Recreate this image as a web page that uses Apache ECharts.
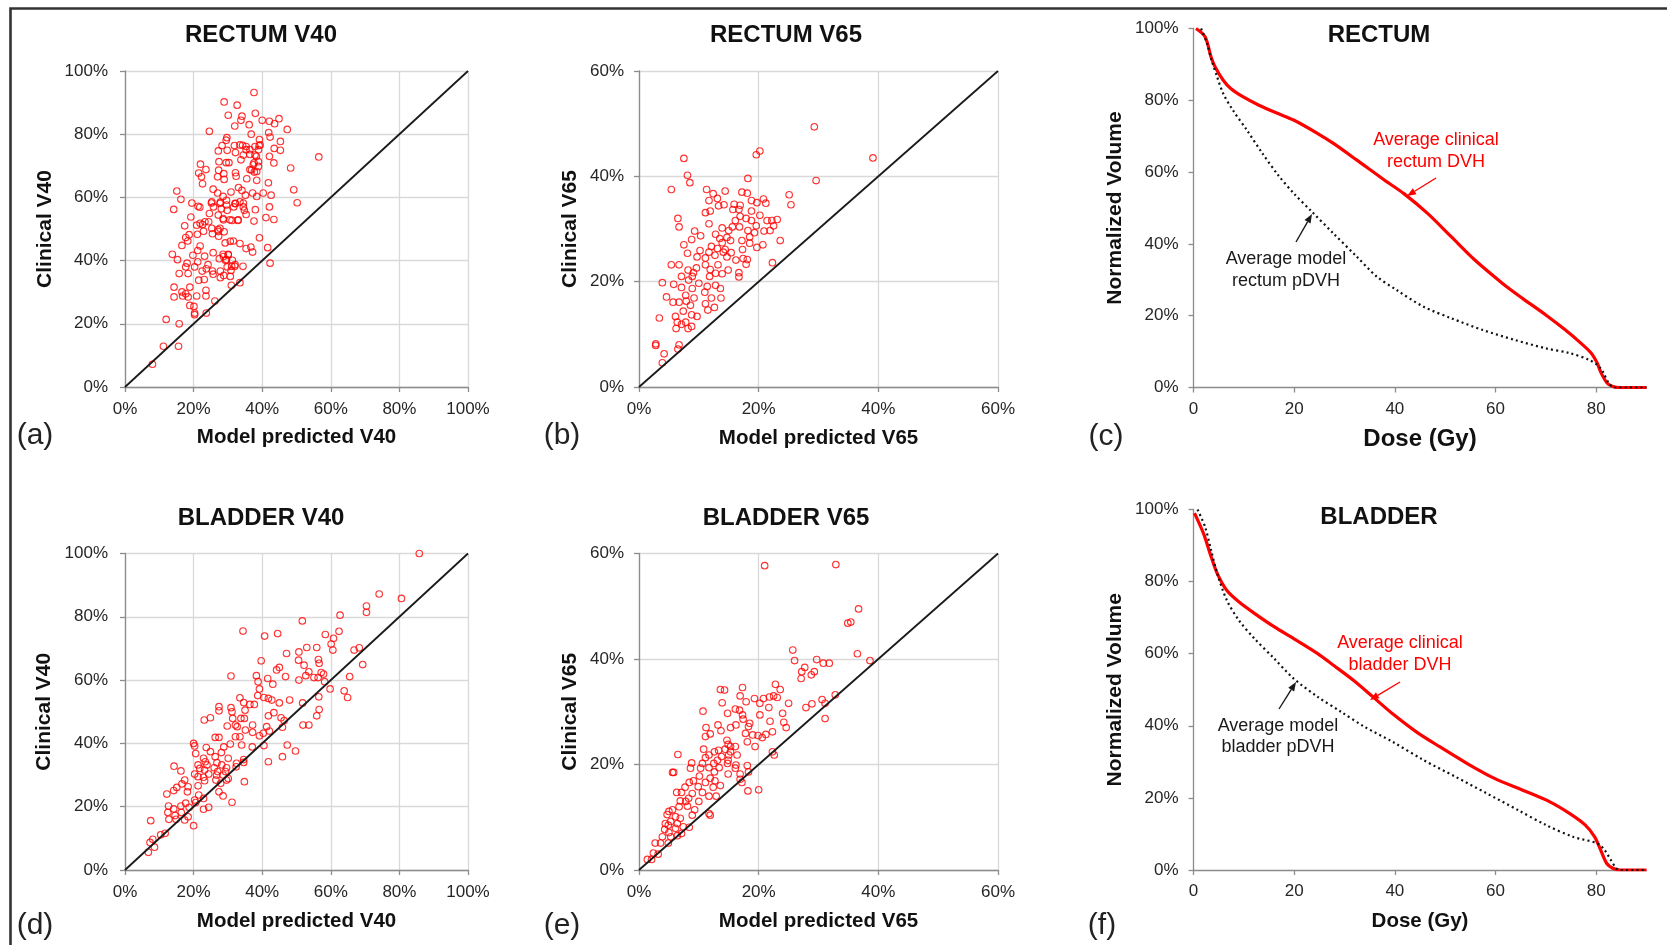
<!DOCTYPE html>
<html><head><meta charset="utf-8">
<script src="https://cdn.jsdelivr.net/npm/echarts@6/dist/echarts.min.js"></script>
<style>html,body{margin:0;padding:0;background:#fff}#c{width:1667px;height:945px}</style>
</head><body><div id="c"></div><script>
// ---------- DATA ----------
const rectumV40 = [[37.6,93.2],[28.9,90.2],[32.7,89.2],[30.1,86],[38,86.6],[34.1,85.7],[33.8,84.4],[40,84.4],[42.1,84.1],[44.9,84.9],[43.6,83.3],[36.2,83],[32,82.6],[47.3,81.5],[24.6,80.9],[36.8,80],[41.9,80.5],[42.3,79.1],[45.3,77.7],[39.2,78.3],[29.7,78.9],[29.5,78.1],[28.3,76.4],[31.9,76.4],[34.3,76.5],[39.1,76.4],[43.5,75.5],[45.3,74.9],[27.2,74.7],[29.8,74.9],[32.2,74.2],[35.3,75.1],[36.4,73.6],[38.3,73],[42.1,73],[43.4,70.9],[27.4,71.3],[29.5,71],[30.3,71],[33.8,71.9],[37.6,70.9],[38.9,69.8],[48.3,69.3],[56.5,72.8],[22,70.5],[23.6,68.8],[21.5,67.7],[27.3,68.6],[28.8,67.5],[32.2,67.8],[32.4,66.7],[27,66.5],[36.4,68.8],[37.7,68],[22.3,66.5],[22.6,64.3],[38.4,65.4],[41.8,64.6],[35.5,65.9],[28.9,65.7],[25.7,62.6],[33.1,63.1],[34.1,62.2],[37.2,61.4],[40.3,61.4],[38.4,60.3],[42.6,60.7],[30.9,61.7],[27,61.4],[28.6,60.3],[35.1,60.7],[49.2,62.4],[15.1,62],[16.3,59.4],[19.5,58.2],[21.3,57.2],[25.2,58.2],[27.8,58.5],[29.6,59.1],[32.2,58],[34.5,58.2],[50.2,58.3],[14.2,56.2],[21.8,56.9],[25.8,57],[28.1,56.4],[31.7,57],[29.8,55.9],[34.8,55.9],[38,56.1],[42.1,57],[24.6,54.9],[35.3,54.6],[19.2,53.8],[28.6,53.3],[31.2,52.7],[32.9,52.7],[37.6,52.5],[43.4,53],[41.1,53.6],[24.4,52.3],[22.6,51.4],[20.9,51.2],[17.4,51],[27.1,49.8],[25.5,48.5],[27.3,47.7],[28.9,49.1],[22.9,49.3],[21.1,48.3],[18.7,48.2],[17.7,47.3],[18.3,46.2],[16.6,44.8],[39.2,47.2],[30.7,46.1],[31.6,46.2],[29.2,45.6],[21.9,44.6],[33.5,45.4],[35.3,43.8],[36.7,44.3],[37.2,42.7],[41.6,44.1],[21.2,43.2],[25.7,42.5],[13.8,42],[15.3,40.3],[19.8,41.7],[23.2,41.4],[28.6,42],[30.1,42],[27.5,40.6],[29.3,40.1],[31.3,40.1],[21.2,39.6],[18.1,39.2],[42.3,39.2],[17.7,38],[20.3,38],[24.2,38.7],[29.8,38],[32,38.2],[34.4,38.2],[23.7,37.4],[22.5,36.7],[25.5,36.7],[27.8,36.7],[30.9,36.9],[18.4,35.9],[15.8,35.9],[25.7,35.7],[28.8,35.3],[30.7,35],[27.8,34.6],[21.5,33.8],[23.1,34],[33.5,33],[31,32.2],[14.3,31.6],[18.9,31.6],[23.6,30.6],[16.6,30.1],[17.7,29.5],[14.3,28.5],[16.8,28.8],[18.4,28.5],[20.9,28.8],[23.6,28.8],[26.2,27.2],[18.9,25.8],[20.1,25.5],[20.3,23.4],[20.3,22.9],[23.7,23.4],[12,21.4],[15.8,20],[11.2,12.9],[15.6,12.9],[8,7.2],
[33.5,76.6],[35.3,76.1],[36.4,75.1],[37.9,76.1],[38.9,75.1],[39.4,76.6],[34.5,73.4],[37.9,73.4],[38.9,71.3],[37.4,70.3],[36.9,68.7],[38.4,68.2],[25.3,58.6],[27.7,58.1],[29.6,57.6],[32.1,58.1],[33.5,58.6],[34.5,57],[27.2,54.4],[28.7,52.9],[30.6,52.9],[33,52.9],[21.9,51.8],[23.3,52.3],[25.3,50.2],[27.2,49.2],[27.7,50.2],[28.7,41.3],[30.1,41.8],[29.6,40.3],[31.1,38.2],[32.1,38.7]];

const rectumV65 = [[29.3,49.4],[20.2,44.8],[19.6,44.1],[7.5,43.4],[39.1,43.5],[8.1,40.2],[18.2,39.6],[8.5,38.8],[29.6,39.2],[5.4,37.5],[11.3,37.5],[14.4,37.2],[17.2,37],[18.1,36.8],[12.4,36.7],[25.1,36.5],[11.7,35.4],[20.8,35.7],[21.2,34.9],[18.8,35.4],[13.1,35.8],[19.7,35],[25.4,34.6],[14.2,34.6],[13.3,34.4],[15.9,34.7],[16.9,34.5],[16.7,33.7],[15.7,33.7],[18.8,33.4],[11.1,33.1],[11.9,33.4],[20.2,32.6],[16.9,32.4],[16.1,31.6],[17.9,32],[18.8,31.6],[21.4,31.6],[22.2,31.6],[23.1,31.8],[6.5,32],[11.7,31],[6.7,30.4],[13.9,30.2],[15.6,30.4],[16.8,30.4],[19.6,30.6],[22.5,30.6],[15,29.7],[18.2,29.7],[19.3,29.3],[20.9,29.6],[21.9,29.7],[9.3,29.6],[12.8,29],[13.5,28.2],[14.7,28.4],[15.3,27.8],[18.5,28.5],[17.2,27.8],[23.6,27.8],[8.8,28],[10.3,28.7],[13.9,27.4],[18.5,27.3],[20.7,27],[7.5,27],[12.1,26.7],[13.1,26.3],[14.4,26.1],[19.7,26.5],[17.3,26.1],[10.2,25.9],[8.1,25.4],[11.7,25.6],[14.1,25.6],[15.4,25.5],[12.7,25],[9.7,24.7],[11.1,24.5],[14.7,24.7],[16.2,24.1],[17.4,24.4],[18.1,24.2],[17.9,23.3],[22.3,23.6],[5.4,23.2],[6.7,23.2],[11.1,23.2],[13.2,23.2],[9.6,22.6],[11.9,22.3],[14.9,22.2],[8.2,22.2],[9.1,21.7],[12.8,21.6],[13.9,21.5],[16.7,21.7],[7.1,21],[8.9,21],[11.8,21],[16.7,20.9],[3.9,19.8],[5.8,19.5],[7.1,18.9],[10,19.7],[8.3,20.3],[11.4,19.1],[12.8,19.3],[13.6,18.7],[8.9,18.7],[11,18],[4.6,17.1],[7.8,17.4],[9.2,16.9],[12.1,16.9],[13.7,16.9],[5.7,16.1],[6.7,16.1],[7.9,16.3],[8.6,15.5],[11.1,15.8],[12.6,15.1],[11.5,14.6],[7.4,14.4],[8.8,13.7],[9.7,13.4],[6.1,13.4],[3.4,13.1],[6.4,12.3],[7.8,12.3],[7.1,11.9],[8.8,11.5],[6.2,11.1],[8.2,11.1],[2.8,8.2],[2.8,7.9],[6.7,8],[6.5,7.2],[4.2,6.3],[3.9,4.6]];

const bladderV40 = [[85.8,100],[74.1,87.2],[80.6,85.8],[70.4,83.4],[70.4,81.4],[62.7,80.5],[51.7,78.7],[34.4,75.5],[44.5,74.7],[40.7,73.9],[62.4,75.4],[58.4,74.4],[60.8,73.2],[60.1,71.4],[60.6,69.5],[53,70.3],[55.9,70.3],[50.7,68.9],[47.1,68.4],[66.8,69.5],[68.3,70.2],[39.7,66.1],[50.6,66.3],[56.4,66.5],[56.6,65.3],[69.3,64.9],[52.2,64.7],[45,64],[44.2,63.2],[53.6,62.6],[57.2,62.4],[57.9,61.9],[52.7,61.4],[38.3,61.4],[55.1,60.8],[56.3,60.8],[30.9,61.3],[46.8,61.1],[41.6,60.5],[50.7,60],[38.8,59.5],[43.1,58.7],[58.2,59.5],[65.5,61.1],[39.2,57.2],[59.8,57.2],[63.9,56.6],[64.9,54.5],[56.5,54.7],[38.7,55.1],[40.5,54.5],[41.8,54.2],[42.8,53.7],[33.5,54.4],[45,52.8],[48,53.7],[51.8,52.8],[34.6,52.9],[36.4,52.3],[37.7,52.3],[27.4,51.6],[30.9,51.3],[35,50.5],[27.4,50.3],[31.2,50],[56.6,50.7],[43.4,49.7],[41.8,48.7],[24.9,48.1],[23.1,47.4],[31.4,47.9],[33.8,47.9],[34.8,47.9],[45.5,48.1],[46.4,47.2],[55.9,48.7],[32.2,45.8],[29.8,45.5],[37.2,45.8],[32.7,45.3],[41.3,45.3],[45.9,45.1],[51.9,45.8],[53.6,45.8],[35.1,44.2],[37.2,43.5],[40.3,43.2],[42.1,43.9],[33.5,42.1],[39.2,42.4],[26.3,41.9],[27.4,41.9],[32.2,42.1],[20,40],[20.3,39.2],[30.7,39.8],[34,39.5],[37.1,38.9],[40.5,39.3],[47.3,39.5],[23.7,38.7],[28.8,38.9],[24.9,37.4],[49.7,37.6],[28.1,37.1],[20.6,36.8],[26.3,35.8],[45.9,35.8],[30.1,35.3],[22.9,35.3],[34.6,34.9],[41.8,34.2],[23.4,34.2],[26.8,33.9],[34.6,34],[32.5,33.7],[21.3,33.2],[23.9,33.2],[28.2,33.2],[32.4,32.6],[14.3,32.8],[21.8,32.1],[26,32.3],[29.6,32.3],[23.2,31.6],[16.3,31.3],[27,31.1],[29.3,31.1],[20.3,30.3],[24.4,30.3],[26.7,30],[28.6,30],[21.3,29.5],[22.9,29.3],[30.1,28.9],[17.4,28.4],[26.5,28.4],[29.6,28.4],[23.2,28.2],[34.8,27.9],[27.9,27.4],[16.6,27.2],[21.3,26.6],[18.4,26.3],[15.1,26.1],[14.2,25.1],[18.2,24.7],[27.4,24.7],[12.2,24],[21.5,23.7],[28.6,23.4],[22.9,22.6],[20.3,22.1],[20.6,21.3],[31.2,21.4],[17.7,21.1],[12.7,20.2],[16.3,20.2],[18.7,19.8],[24.4,19.8],[14.2,19.3],[22.9,19.2],[12.5,18.2],[16.4,18.2],[14.6,17.2],[18.4,16.8],[12.8,16],[14.9,16],[17.4,15.8],[7.5,15.6],[20,14],[11.7,11.6],[10.4,11.1],[8.1,9.7],[7.3,8.7],[8.6,7.2],[6.8,5.6]];

const bladderV65 = [[21,57.7],[32.9,57.9],[36.7,49.5],[34.9,46.8],[35.4,47],[25.7,41.7],[36.5,41],[26,39.7],[29.7,39.9],[38.6,39.7],[30.8,39.2],[31.8,39.2],[27.7,38.4],[29.3,37.6],[27.2,37.6],[28.8,37],[27.1,36.3],[22.8,35.2],[13.6,34.2],[14.3,34.1],[17.3,34.6],[23.6,34.2],[16.9,33],[19.3,32.5],[20.8,32.5],[21.8,32.8],[22.5,33],[23.1,32.7],[32.8,33.2],[30.6,32.3],[17.9,31.9],[25,31.6],[13.9,31.7],[20.2,31.6],[28.9,31.5],[31.1,31.6],[10.7,30.1],[16.1,30.5],[16.8,30.3],[17.3,29.4],[21.7,30.8],[14.8,29.7],[20.2,29.4],[27.9,30.8],[24,29.7],[31.1,28.7],[21.9,28.2],[17.4,28.6],[11.2,27],[13.2,27.5],[15.3,27],[16.2,27.5],[13.7,26.4],[18.5,27.8],[18.3,27.2],[24.2,28],[24.6,27],[11.9,25.8],[11.1,25.3],[17.8,25.9],[19,25.6],[19.9,25.5],[20.6,25.1],[21.2,25.7],[22.3,26.2],[18.1,24.3],[14.7,24.6],[14.9,23.8],[15.3,23.4],[19.4,23.4],[10.8,22.9],[12.6,22.4],[13.3,22.7],[14.4,22.9],[15.3,22.4],[16.1,23.4],[6.5,21.9],[11.7,21.8],[11.1,21.3],[15,21.8],[16.4,21.8],[22.3,22.4],[22.6,21.8],[13.8,21.5],[8.8,20.3],[10.6,20.2],[12.5,20.2],[13.1,20.8],[14.9,20.8],[16.2,19.9],[14.8,20.2],[18.1,19.8],[8.6,19.3],[11.7,19.4],[12.6,18.6],[10.3,19.3],[13.4,19.4],[16.1,19.3],[18.3,18.6],[5.6,18.5],[5.8,18.5],[14.9,18.2],[10.1,17.8],[16.9,18.2],[11.9,17.4],[9.1,16.9],[11.1,16.6],[12.7,16.9],[8.4,16.6],[16.9,17.2],[17.2,16.6],[9.9,15.8],[7.7,15.7],[13.6,16],[12.4,15.7],[6.3,14.7],[7.1,14.7],[8.9,14.5],[10.6,14.7],[18.2,15],[20,15.2],[11.7,14],[12.9,14],[8.3,13.6],[6.9,13.1],[7.8,13],[10,13],[6.7,12],[8.1,12.1],[9.3,11.4],[11.7,10.7],[11.9,10.4],[5,11.1],[5.6,11.4],[4.7,10.5],[6.1,10.1],[8.9,10.4],[6.9,9.8],[4.4,8.8],[4.9,8.5],[5.3,9.2],[6.4,8.8],[6.1,7.9],[7.4,8.2],[8.4,8.1],[4.3,7.7],[5,7.1],[7.1,6.9],[3.9,6.3],[5.3,6.3],[6.4,6.5],[2.7,5.1],[3.6,5.1],[4.9,5.1],[2.4,3.2],[3.2,3],[1.4,2],[2.1,2]];

// identity (y = x) reference lines
const identity100 = [[0,0],[100,100]];
const identity60 = [[0,0],[60,60]];

// DVH curves
const rectumClinDose = [0.5,2.3,3.5,4.3,5.9,7.4,9.8,12.9,16.8,19.9,24.6,27.8,32.4,37.9,41.8,46.5,51.2,55.9,61.4,65.3,70,73.9,77,79,80.2,81,82.2,83.3,84.8,90];
const rectumClinVol  = [100,97.7,92,89.3,85.6,83.3,81,78.7,76.3,74.5,70.8,68,63.4,57.8,54,48.5,42,35.5,29,24.9,20.2,16,12.3,9.6,6.8,4,1.2,0.3,0,0];
const rectumModelDose = [1.5,2.7,3.5,4.7,5.9,7.8,10.6,13.7,16.8,19.9,23.5,27.8,32.4,36.4,40.3,45.7,51.2,57.5,63.7,70,74.7,78.6,80.2,81.3,82.5,83.7,90];
const rectumModelVol  = [100,95.8,91.6,86.5,81.9,77.3,71.7,65.2,59.2,54.1,49,42.9,36.5,30.9,27.2,22.5,19.3,16,13.3,10.9,9.6,7.7,6.3,4.5,1.2,0,0];
const bladderClinDose = [0.2,2,3.5,4.7,6.6,9,12.1,16,19.9,24.6,27.8,31.7,35.6,39.5,44.2,48.9,54.3,59.8,65.3,70.8,74.7,77.8,79.7,80.9,82.1,83.3,84.8,90];
const bladderClinVol  = [99,93.3,86.9,82.3,77.6,74.4,71.2,67.5,64.2,60.1,56.8,52.7,48.1,43.4,38.4,34.2,29.6,25.4,22.2,18.9,15.7,12.5,9.2,5.5,1.8,0.5,0,0];
const bladderModelDose = [0.8,2.3,3.5,4.7,6.6,9,12.1,16,19.9,24.6,29.3,34,39.5,45.7,52,58.2,64.5,70,75.4,80.2,81.7,82.9,84,84.8,90];
const bladderModelVol  = [100,95.2,88.7,82.3,74.9,69.3,64.2,58.7,53.1,48.1,43.9,39.7,35.6,30.5,25.9,21.3,16.6,12.5,9.2,7.4,5.5,2.8,0.5,0,0];

const doseTicks = [0,20,40,60,80];

// ---------- CHART ----------
const FONT = '"Liberation Sans", Arial, sans-serif';
const AX = '#8c8c8c', GRIDC = '#d9d9d9', LBL = '#262626', NAMEC = '#111';
const zip = (a,b) => a.map((v,i)=>[v,b[i]]);

const grids = [
  {left:125, top:71, width:343, height:316},
  {left:639, top:71, width:359, height:316},
  {left:1193.5, top:28.5, width:453, height:359},
  {left:125, top:553.5, width:343, height:316.5},
  {left:639, top:553.5, width:359, height:316.5},
  {left:1193.5, top:509.5, width:453, height:360.5}
];

function scatterAxis(gi, max, name, gap, margin, nameSize){
  return {type:'value', gridIndex:gi, min:0, max:max, interval:20,
    name:name, nameLocation:'middle', nameGap:gap,
    nameTextStyle:{fontFamily:FONT, fontSize:nameSize, fontWeight:'bold', color:NAMEC},
    axisLine:{show:true, onZero:false, lineStyle:{color:AX, width:1.3}},
    axisTick:{show:true, length:5, lineStyle:{color:AX, width:1.3}},
    splitLine:{show:true, lineStyle:{color:GRIDC, width:1.3}},
    axisLabel:{formatter:'{value}%', fontFamily:FONT, fontSize:17, color:LBL, margin:margin}};
}
function dvhX(gi, name, gap, nameSize){
  return {type:'value', gridIndex:gi, min:0, max:90, interval:20,
    name:name, nameLocation:'middle', nameGap:gap,
    nameTextStyle:{fontFamily:FONT, fontSize:nameSize, fontWeight:'bold', color:NAMEC},
    axisLine:{show:true, onZero:false, lineStyle:{color:AX, width:1.3}},
    axisTick:{show:true, length:5, customValues:doseTicks, lineStyle:{color:AX, width:1.3}},
    splitLine:{show:false},
    axisLabel:{customValues:doseTicks, fontFamily:FONT, fontSize:17, color:LBL, margin:13}};
}
function dvhY(gi){
  return {type:'value', gridIndex:gi, min:0, max:100, interval:20,
    name:'Normalized Volume', nameLocation:'middle', nameGap:68,
    nameTextStyle:{fontFamily:FONT, fontSize:21, fontWeight:'bold', color:NAMEC},
    axisLine:{show:true, onZero:false, lineStyle:{color:AX, width:1.3}},
    axisTick:{show:true, length:5, lineStyle:{color:AX, width:1.3}},
    splitLine:{show:false},
    axisLabel:{formatter:'{value}%', fontFamily:FONT, fontSize:17, color:LBL, margin:15}};
}

const xAxes = [
  scatterAxis(0,100,'Model predicted V40',40,14,20.5),
  scatterAxis(1,60,'Model predicted V65',41,14,20.5),
  dvhX(2,'Dose (Gy)',40,24),
  scatterAxis(3,100,'Model predicted V40',41,14,20.5),
  scatterAxis(4,60,'Model predicted V65',41,14,20.5),
  dvhX(5,'Dose (Gy)',41,20.5)
];
const yAxes = [
  scatterAxis(0,100,'Clinical V40',69,17,21),
  scatterAxis(1,60,'Clinical V65',58,15,21),
  dvhY(2),
  scatterAxis(3,100,'Clinical V40',70,17,21),
  scatterAxis(4,60,'Clinical V65',58,15,21),
  dvhY(5)
];

function sc(i, data){
  return {type:'scatter', xAxisIndex:i, yAxisIndex:i, data:data, symbol:'circle', symbolSize:6.6,
    itemStyle:{color:'rgba(0,0,0,0)', borderColor:'#ff0000', borderWidth:1.1}, silent:true, z:3};
}
function diag(i, data){
  return {type:'line', xAxisIndex:i, yAxisIndex:i, data:data, symbol:'none',
    lineStyle:{color:'#1a1a1a', width:1.8}, silent:true, z:4};
}
function curve(i, data, red){
  return {type:'line', xAxisIndex:i, yAxisIndex:i, data:data, symbol:'none', smooth:0.3,
    lineStyle: red ? {color:'#ff0000', width:3.2} : {color:'#111', width:2.2, type:[2,3.2]},
    silent:true, z: red ? 3 : 4};
}

function txt(x,y,t,size,weight,color){
  return {type:'text', x:x, y:y, silent:true,
    style:{text:t, fontFamily:FONT, fontSize:size, fontWeight:weight, fill:color, align:'center', verticalAlign:'middle'}};
}
function arrow(x1,y1,x2,y2,color){
  const dx=x2-x1, dy=y2-y1, L=Math.hypot(dx,dy), ux=dx/L, uy=dy/L, h=9, w=3.5;
  const bx=x2-ux*h, by=y2-uy*h;
  return [
    {type:'line', silent:true, shape:{x1:x1,y1:y1,x2:bx,y2:by}, style:{stroke:color, lineWidth:1.4}},
    {type:'polygon', silent:true, shape:{points:[[x2,y2],[bx-uy*w,by+ux*w],[bx+uy*w,by-ux*w]]}, style:{fill:color}}
  ];
}

const graphics = [
  {type:'polyline', silent:true, shape:{points:[[10.5,945],[10.5,8.5],[1667,8.5]]}, style:{stroke:'#333', lineWidth:2.6, fill:null}},
  txt(261,35,'RECTUM V40',24,'bold','#111'),
  txt(786,35,'RECTUM V65',24,'bold','#111'),
  txt(1379,35,'RECTUM',24,'bold','#111'),
  txt(261,518,'BLADDER V40',24,'bold','#111'),
  txt(786,518,'BLADDER V65',24,'bold','#111'),
  txt(1379,517,'BLADDER',24,'bold','#111'),
  txt(35,436,'(a)',30,'normal','#222'),
  txt(562,436,'(b)',30,'normal','#222'),
  txt(1106,437,'(c)',30,'normal','#222'),
  txt(35,926,'(d)',30,'normal','#222'),
  txt(562,926,'(e)',30,'normal','#222'),
  txt(1102,926,'(f)',30,'normal','#222'),
  txt(1436,140,'Average clinical',18,'normal','#ff0000'),
  txt(1436,162,'rectum DVH',18,'normal','#ff0000'),
  ...arrow(1436,178,1407,196,'#ff0000'),
  txt(1286,259,'Average model',18,'normal','#1a1a1a'),
  txt(1286,281,'rectum pDVH',18,'normal','#1a1a1a'),
  ...arrow(1296,242,1312,214,'#1a1a1a'),
  txt(1400,643,'Average clinical',18,'normal','#ff0000'),
  txt(1400,665,'bladder DVH',18,'normal','#ff0000'),
  ...arrow(1400,682,1370,700,'#ff0000'),
  txt(1278,726,'Average model',18,'normal','#1a1a1a'),
  txt(1278,747,'bladder pDVH',18,'normal','#1a1a1a'),
  ...arrow(1279,709,1296,682,'#1a1a1a')
];

const chart = echarts.init(document.getElementById('c'), null, {renderer:'canvas'});
chart.setOption({
  animation:false,
  backgroundColor:'#fff',
  grid:grids,
  xAxis:xAxes,
  yAxis:yAxes,
  series:[
    sc(0,rectumV40), diag(0,identity100),
    sc(1,rectumV65), diag(1,identity60),
    curve(2,zip(rectumClinDose,rectumClinVol),true), curve(2,zip(rectumModelDose,rectumModelVol),false),
    sc(3,bladderV40), diag(3,identity100),
    sc(4,bladderV65), diag(4,identity60),
    curve(5,zip(bladderClinDose,bladderClinVol),true), curve(5,zip(bladderModelDose,bladderModelVol),false)
  ],
  graphic:graphics
});
</script></body></html>
